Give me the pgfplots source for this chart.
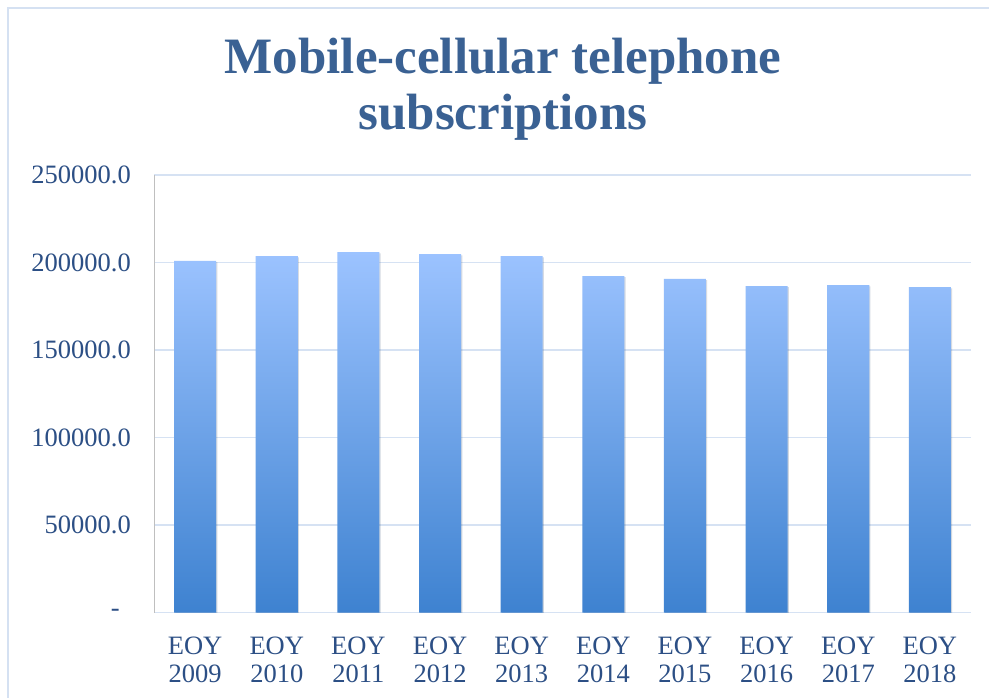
\documentclass[border=0pt]{standalone}
\usepackage{pgfplots}
\pgfplotsset{compat=1.18}
\usetikzlibrary{shadows}
\usepackage{fontspec}
\setmainfont{Liberation Serif}
\definecolor{titleblue}{HTML}{3A6193}
\definecolor{tickblue}{HTML}{2C4F85}
\definecolor{gridblue}{HTML}{D6E2F3}
\definecolor{bartop}{HTML}{9CC3FF}
\definecolor{barbot}{HTML}{3E82D0}
\definecolor{borderblue}{HTML}{D5E1F2}
\definecolor{axisgray}{HTML}{BFBFBF}
\begin{document}
\begin{tikzpicture}
\useasboundingbox (0,0) rectangle (989pt,697pt);
\fill[white] (0,0) rectangle (989pt,697pt);
\draw[borderblue, line width=1.5pt] (8pt,-10pt) rectangle (1000pt,689pt);
\node[font=\fontsize{51}{56}\selectfont\bfseries, text=titleblue, anchor=base] at (503pt,623pt) {Mobile-cellular telephone};
\node[font=\fontsize{51}{56}\selectfont\bfseries, text=titleblue, anchor=base] at (503pt,567pt) {subscriptions};
\begin{axis}[
  at={(154.3pt,84.3pt)}, anchor=south west,
  scale only axis, width=816.4pt, height=437.7pt,
  xmin=-0.5, xmax=9.5, ymin=0, ymax=250000,
  xtick={0,...,9},
  xticklabels={{EOY\\2009},{EOY\\2010},{EOY\\2011},{EOY\\2012},{EOY\\2013},{EOY\\2014},{EOY\\2015},{EOY\\2016},{EOY\\2017},{EOY\\2018}},
  ytick={0,50000,100000,150000,200000,250000},
  yticklabels={{-\hspace*{11pt}},50000.0,100000.0,150000.0,200000.0,250000.0},
  scaled y ticks=false,
  ymajorgrids, grid style={gridblue, line width=1.5pt},
  separate axis lines,
  axis x line*=bottom, axis y line*=left,
  x axis line style={gridblue, line width=1.5pt},
  y axis line style={axisgray, line width=1.2pt},
  major tick length=0pt,
  tick label style={font=\fontsize{26.5}{28}\selectfont, text=tickblue},
  xticklabel style={align=center, yshift=-21pt},
  yticklabel style={xshift=-20pt},
]
\addplot[ybar, bar width=0.515, draw=none, top color=bartop, bottom color=barbot,
  drop shadow={shadow xshift=1.2pt, shadow yshift=-1.2pt, fill=black, opacity=0.12}] coordinates {
(0,200900) (1,203700) (2,205900) (3,204750) (4,203600)
(5,192300) (6,190600) (7,186600) (8,187100) (9,186000)};
\end{axis}
\end{tikzpicture}
\end{document}
